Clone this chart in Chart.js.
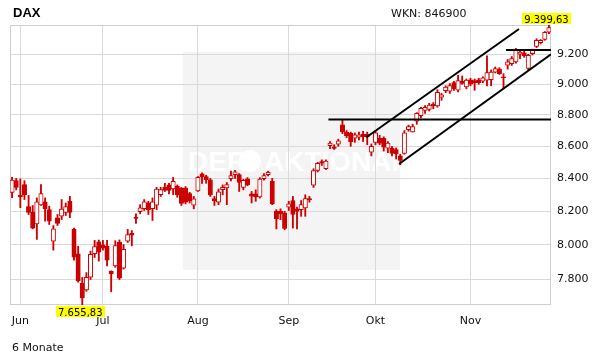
<!DOCTYPE html>
<html><head><meta charset="utf-8">
<script src="https://cdn.jsdelivr.net/npm/chart.js@4/dist/chart.umd.min.js"></script>
<style>
html,body{margin:0;padding:0;background:#fff;}
#wrap{position:relative;width:611px;height:364px;overflow:hidden;}
canvas{position:absolute;left:0;top:0;}
.t{position:absolute;white-space:nowrap;color:#111;font-family:'DejaVu Sans',sans-serif;font-size:11px;line-height:11px;}
</style></head><body>
<div id="wrap">
<canvas id="c" width="611" height="364"></canvas>
<div class="t" style="left:13px;top:6px;font:bold 13px/13px 'Liberation Sans',Arial,sans-serif;color:#000;">DAX</div>
<div class="t" style="left:391px;top:8px;">WKN: 846900</div>
<div class="t" style="left:12px;top:342px;">6 Monate</div>
</div>
<script>
// ---- data (DAX, daily candles, 30.05. - 28.11.) ----
const monthLabels = ['Jun','Jul','Aug','Sep','Okt','Nov'];
const monthStartIdx = [2,22,45,67,88,111];
const yTicks = [7800,8000,8200,8400,8600,8800,9000,9200];

const open = [
8314,8386,8296,8362,8228,8194,8124,8238,8257,8210,
8023,8161,8171,8194,8260,8092,7949,7779,7741,7814,
7949,8019,8001,7993,7847,7878,8017,7866,8023,8068,
8166,8198,8216,8250,8216,8237,8301,8345,8360,8335,
8351,8341,8341,8307,8237,8324,8429,8412,8392,8277,
8255,8331,8342,8398,8423,8423,8345,8398,8305,8305,
8287,8398,8423,8382,8200,8200,8191,8225,8265,8215,
8210,8221,8277,8358,8450,8505,8460,8604,8596,8614,
8736,8689,8683,8651,8658,8678,8676,8563,8624,8651,
8651,8588,8588,8580,8540,8556,8706,8691,8760,8795,
8830,8835,8870,8858,8915,8958,8955,9011,8962,9020,
8983,9030,9025,9030,9021,9027,9030,9081,9100,9050,
9127,9137,9149,9200,9210,9105,9205,9254,9279,9300,
9350];
const high = [
8406,8400,8397,8386,8296,8235,8281,8362,8281,8230,
8115,8181,8271,8250,8291,8100,7993,7812,7840,7964,
8027,8029,8027,8027,7850,8025,8030,8003,8092,8085,
8185,8240,8271,8260,8281,8345,8345,8370,8370,8406,
8360,8345,8350,8315,8290,8412,8435,8420,8400,8290,
8335,8360,8375,8445,8450,8430,8395,8405,8320,8330,
8405,8430,8445,8400,8210,8215,8200,8260,8290,8225,
8265,8300,8290,8460,8500,8515,8515,8630,8610,8645,
8770,8700,8690,8685,8690,8695,8690,8615,8700,8670,
8660,8630,8600,8590,8550,8700,8735,8740,8815,8850,
8860,8875,8880,8965,8940,8990,9005,9020,9060,9055,
9035,9040,9035,9040,9050,9190,9095,9115,9110,9070,
9165,9185,9240,9225,9225,9200,9235,9305,9300,9355,
9399.63];
const low = [
8283,8330,8222,8271,8181,8095,8033,8235,8141,8121,
7970,8115,8151,8175,8162,7912,7785,7655.83,7733,7800,
7927,7906,7970,7878,7730,7870,7800,7860,8015,7995,
8127,8185,8205,8181,8145,8210,8290,8320,8305,8301,
8285,8235,8245,8250,8215,8320,8370,8370,8290,8235,
8240,8300,8240,8385,8400,8320,8330,8355,8250,8260,
8280,8390,8415,8240,8095,8150,8090,8205,8100,8095,
8170,8170,8255,8345,8440,8480,8455,8585,8580,8600,
8680,8655,8600,8625,8640,8630,8610,8540,8610,8610,
8570,8560,8540,8520,8485,8550,8695,8690,8740,8780,
8810,8825,8840,8850,8895,8945,8940,8960,8950,9000,
8970,8990,8960,9000,9010,8990,8990,9075,9065,8970,
9100,9125,9140,9170,9180,9095,9195,9245,9270,9295,
9340];
const close = [
8390,8345,8287,8299,8194,8100,8257,8307,8216,8141,
8096,8127,8214,8228,8194,7929,7792,7696,7812,7945,
7990,7958,7981,7912,7834,7997,7808,7974,8062,8058,
8158,8221,8257,8210,8257,8335,8331,8327,8327,8382,
8301,8247,8255,8262,8275,8406,8410,8392,8299,8262,
8318,8345,8362,8418,8441,8375,8388,8362,8291,8287,
8396,8418,8437,8245,8155,8185,8098,8245,8181,8200,
8240,8277,8269,8448,8494,8495,8508,8620,8587,8634,
8693,8665,8630,8672,8672,8661,8660,8600,8686,8620,
8594,8620,8556,8552,8511,8686,8725,8725,8810,8843,
8850,8864,8860,8947,8930,8982,8992,8970,9024,9005,
9027,9000,9010,9010,9043,9078,9081,9104,9071,9043,
9149,9171,9227,9215,9190,9193,9227,9294,9294,9350,
9382];

// trend lines (x = trading-day index, y = index level)
const resistanceLine = [{x:76.6,y:8771},{x:130.5,y:8771}];
const channelUpper   = [{x:85.8,y:8657},{x:122.75,y:9372}];
const channelLower   = [{x:93.7,y:8489},{x:130.5,y:9200}];
const topLine        = [{x:119.6,y:9229},{x:130.5,y:9229}];

// ---- derived ----
const N = open.length;
const idx = open.map((_, i) => i);
const bodies = idx.map(i => ({x: i, y: [open[i], close[i]]}));
const wicks = idx.map(i => ({x: i, y: [low[i], high[i]]}));
const RED = '#cc0000';
let iMax = 0, iMin = 0;
idx.forEach(i => { if (high[i] > high[iMax]) iMax = i; if (low[i] < low[iMin]) iMin = i; });
const fmtInt = v => String(Math.round(v)).replace(/\B(?=(\d{3})+(?!\d))/g, '.');
const fmt2 = v => { const p = v.toFixed(2).split('.'); return p[0].replace(/\B(?=(\d{3})+(?!\d))/g, '.') + ',' + p[1]; };

const bgPlugin = {
  id: 'bg',
  beforeDraw(chart) {
    const ctx = chart.ctx;
    ctx.save();
    ctx.fillStyle = '#fff';
    ctx.fillRect(0, 0, chart.width, chart.height);
    ctx.fillStyle = '#f4f4f4';
    ctx.fillRect(183, 52, 217, 218);
    ctx.fillStyle = '#fff';
    ctx.font = 'bold 28px "Liberation Sans Narrow", "Liberation Sans", sans-serif';
    ctx.textBaseline = 'alphabetic';
    ctx.fillText('DER', 188, 171);
    ctx.beginPath(); ctx.arc(250, 161, 11, 0, Math.PI * 2); ctx.fill();
    ctx.fillText('AKTIONÄR', 264, 171);
    ctx.restore();
  }
};
const framePlugin = {
  id: 'frame',
  beforeDatasetsDraw(chart) {
    const {ctx, chartArea: a} = chart;
    ctx.save();
    ctx.strokeStyle = '#cfcfcf'; ctx.lineWidth = 1;
    ctx.strokeRect(Math.round(a.left) + 0.5, Math.round(a.top) + 0.5, Math.round(a.right - a.left) - 1, Math.round(a.bottom - a.top) - 1);
    ctx.restore();
  }
};
const tagPlugin = {
  id: 'tags',
  afterDraw(chart) {
    const {ctx, chartArea, scales: {x}} = chart;
    ctx.save();
    ctx.font = '10px "DejaVu Sans", sans-serif';
    const tag = (txt, cx, top, base) => {
      const w = ctx.measureText(txt).width + 4;
      ctx.fillStyle = '#ffff00';
      ctx.fillRect(Math.round(cx - w / 2), top, Math.round(w), 11);
      ctx.fillStyle = '#000';
      ctx.textAlign = 'center'; ctx.textBaseline = 'alphabetic';
      ctx.fillText(txt, cx, top + base);
    };
    tag(fmt2(high[iMax]), x.getPixelForValue(iMax) - 2.5, chartArea.top - 12, 9.7);
    tag(fmt2(low[iMin]), x.getPixelForValue(iMin) - 2, chartArea.bottom + 1, 10.2);
    ctx.restore();
  }
};

const lineDs = (d) => ({type: 'line', data: d, borderColor: '#000', borderWidth: 2, pointRadius: 0, fill: false, order: 0});

new Chart(document.getElementById('c'), {
  type: 'bar',
  data: {
    datasets: [
      lineDs(resistanceLine), lineDs(channelUpper), lineDs(channelLower), lineDs(topLine),
      {data: bodies, backgroundColor: idx.map(i => close[i] >= open[i] ? '#ffffff' : RED),
       borderColor: RED, borderWidth: 1, borderSkipped: false, barThickness: 4.4, grouped: false, order: 1},
      {data: wicks, backgroundColor: RED, borderWidth: 0, barThickness: 1.2, grouped: false, order: 2}
    ]
  },
  options: {
    responsive: false, animation: false, devicePixelRatio: 1,
    layout: {padding: {left: 10, top: 25, right: 0, bottom: 0}},
    plugins: {legend: {display: false}, tooltip: {enabled: false}},
    scales: {
      x: {
        type: 'linear', min: -0.5, max: N - 0.5, offset: false, position: 'bottom',
        afterBuildTicks: s => { s.ticks = monthStartIdx.map(v => ({value: v})); },
        afterFit: s => { s.height = 59; },
        ticks: {autoSkip: false, maxRotation: 0, padding: 10, color: '#111',
                font: {family: 'DejaVu Sans', size: 11},
                callback: v => { const k = monthStartIdx.indexOf(v); return k >= 0 ? monthLabels[k] : ''; }},
        grid: {color: '#d9d9d9', drawTicks: false, offset: false}, border: {display: false}
      },
      y: {
        type: 'logarithmic', position: 'right', min: low[iMin], max: high[iMax], bounds: 'data',
        afterBuildTicks: s => { s.ticks = yTicks.map(v => ({value: v})); },
        afterFit: s => { s.width = 60; },
        ticks: {padding: 6, color: '#111', font: {family: 'DejaVu Sans', size: 11}, callback: v => fmtInt(v)},
        grid: {color: '#d9d9d9', drawTicks: false, offset: false}, border: {display: false}
      }
    }
  },
  plugins: [bgPlugin, framePlugin, tagPlugin]
});
</script>
</body></html>
